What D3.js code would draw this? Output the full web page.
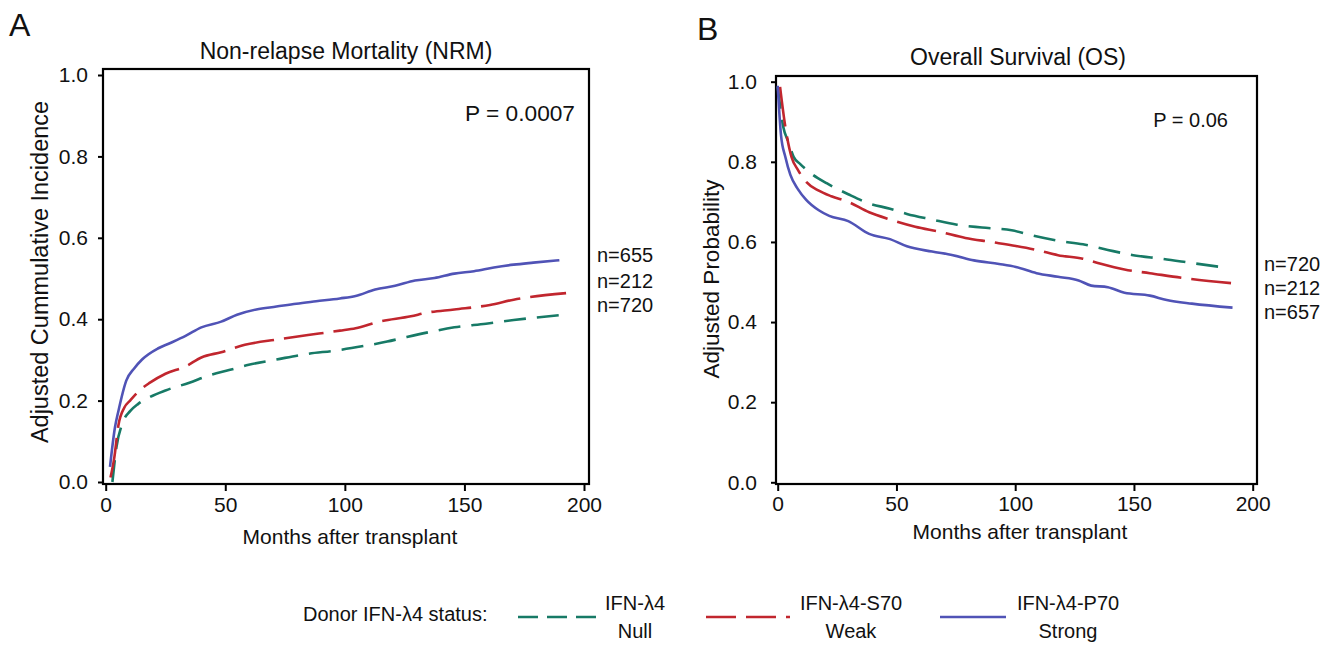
<!DOCTYPE html>
<html><head><meta charset="utf-8">
<script src="https://cdn.jsdelivr.net/npm/d3@7"></script>
<style>
body{margin:0;background:#fff;}
text{font-family:"Liberation Sans",Arial,sans-serif;fill:#111;}
</style></head>
<body><svg id="chart" width="1339" height="646"></svg>
<script>
// ---------- data ----------
const seriesNames = ["IFN-λ4 Null", "IFN-λ4-S70 Weak", "IFN-λ4-P70 Strong"];
const xTicks = [0, 50, 100, 150, 200];
const yTicks = [0, 0.2, 0.4, 0.6, 0.8, 1.0];

// Panel A: Non-relapse mortality, [months, adjusted cumulative incidence]
const nrmNull = [[2.8,0],[4.5,0.086],[6.9,0.143],[10.2,0.174],[13.6,0.192],[18.5,0.209],[25,0.225],[35,0.244],[43.3,0.262],[51.6,0.275],[59.8,0.288],[71.4,0.301],[84.6,0.315],[96.2,0.323],[107.8,0.334],[117.7,0.345],[124.3,0.354],[134.2,0.367],[145.8,0.38],[159,0.389],[170.6,0.398],[190,0.41]];
const nrmWeak = [[2,0.011],[3.6,0.06],[5.3,0.139],[7.8,0.183],[10.2,0.2],[13.6,0.222],[18.5,0.244],[25,0.266],[33.4,0.284],[40,0.306],[48.3,0.319],[58.2,0.337],[71.4,0.35],[84.6,0.361],[97.9,0.372],[104.5,0.378],[114.4,0.394],[127.6,0.407],[134.2,0.416],[145.8,0.424],[160.7,0.435],[170.6,0.448],[192.5,0.464]];
const nrmStrong = [[1.8,0.037],[3.9,0.135],[5.3,0.174],[8.6,0.249],[11.9,0.279],[15.2,0.301],[21.8,0.328],[26.8,0.341],[33.4,0.359],[40,0.38],[48.3,0.394],[54.9,0.411],[63,0.424],[71.4,0.431],[79.7,0.438],[88,0.444],[97.9,0.451],[104.5,0.457],[112.7,0.473],[121,0.482],[129.3,0.495],[137.5,0.501],[145.8,0.512],[154,0.518],[162.3,0.527],[170.6,0.534],[178.8,0.539],[189.7,0.545]];

// Panel B: Overall survival, [months, adjusted probability]
const osNull = [[0,0.987],[2.3,0.888],[4.6,0.848],[6.7,0.8125],[9.4,0.795],[13.8,0.772],[20.8,0.746],[29.7,0.719],[38.5,0.696],[47.3,0.683],[54.4,0.67],[65,0.656],[75.5,0.643],[86,0.636],[98.5,0.629],[107.3,0.616],[118,0.603],[128.5,0.594],[139,0.58],[149.7,0.567],[162,0.558],[176,0.546],[188.5,0.536]];
const osWeak = [[1,0.987],[3.2,0.888],[5.8,0.8125],[8.5,0.78],[12,0.75],[17.3,0.728],[22.6,0.714],[29.7,0.7],[38.5,0.674],[47.3,0.656],[57.9,0.638],[68.5,0.625],[79,0.61],[89.7,0.6],[100.3,0.59],[109,0.58],[118,0.567],[128.5,0.558],[135.6,0.546],[146,0.531],[156.7,0.522],[170.9,0.51],[193,0.496]];
const osStrong = [[0,0.99],[1.4,0.866],[3.2,0.8125],[5.3,0.768],[8.5,0.732],[12,0.705],[17.3,0.679],[21.7,0.665],[29.7,0.652],[38.5,0.62],[47.3,0.607],[54.4,0.589],[65,0.576],[73.8,0.567],[82.6,0.554],[93.2,0.545],[100.3,0.5375],[109,0.522],[118,0.513],[126.7,0.504],[132,0.491],[139,0.487],[146,0.473],[156.7,0.466],[163.8,0.455],[174.4,0.446],[191.5,0.436]];

const nrmLabels = ["n=655", "n=212", "n=720"];
const osLabels = ["n=720", "n=212", "n=657"];

// ---------- styles ----------
const colors = ["#177a66", "#c1262e", "#5053b6"];
const dashes = ["22,11", "40,10", null];
const legendDashes = ["20,9", "30,10", null];

const svg = d3.select("#chart");

function panel(cfg){
  const g = svg.append("g");
  const x = d3.scaleLinear().domain([0,200]).range(cfg.xr);
  const y = d3.scaleLinear().domain([0,1]).range(cfg.yr);

  // frame
  g.append("rect").attr("x", cfg.f.l).attr("y", cfg.f.t)
    .attr("width", cfg.f.r - cfg.f.l).attr("height", cfg.f.b - cfg.f.t)
    .attr("fill","none").attr("stroke","#000").attr("stroke-width",2.2);

  const xa = g.append("g").attr("transform", `translate(0,${cfg.f.b})`)
    .call(d3.axisBottom(x).tickValues(xTicks).tickSize(7).tickPadding(5).tickFormat(d3.format("d")));
  xa.select(".domain").remove();
  xa.selectAll("line").attr("stroke","#000").attr("stroke-width",2);
  xa.selectAll("text").attr("font-size", 21).attr("font-family",'"Liberation Sans",Arial,sans-serif').attr("fill","#111").attr("dy", cfg.xdy);

  const ya = g.append("g").attr("transform", `translate(${cfg.f.l},0)`)
    .call(d3.axisLeft(y).tickValues(yTicks).tickSize(5).tickPadding(cfg.ypad).tickFormat(d3.format(".1f")));
  ya.select(".domain").remove();
  ya.selectAll("line").attr("stroke","#000").attr("stroke-width",2);
  ya.selectAll("text").attr("font-size", 21).attr("font-family",'"Liberation Sans",Arial,sans-serif').attr("fill","#111");

  const line = d3.line().x(d=>x(d[0])).y(d=>y(d[1])).curve(d3.curveMonotoneX);
  cfg.series.forEach((s,i)=>{
    g.append("path").datum(s).attr("d", line).attr("fill","none")
      .attr("stroke", colors[i]).attr("stroke-width", 2.6)
      .attr("stroke-dasharray", dashes[i]);
  });

  g.append("text").attr("x", cfg.titleX).attr("y", cfg.titleY).attr("text-anchor","middle")
    .attr("font-size", 23).text(cfg.title);
  g.append("text").attr("x", cfg.xlabX).attr("y", cfg.xlabY).attr("text-anchor","middle")
    .attr("font-size", 21).text("Months after transplant");
  g.append("text").attr("transform", `translate(${cfg.ylabX},${cfg.ylabY}) rotate(-90)`)
    .attr("text-anchor","middle").attr("font-size", cfg.ylabSize).text(cfg.ylab);
  g.append("text").attr("x", cfg.pX).attr("y", cfg.pY).attr("text-anchor","end")
    .attr("font-size", cfg.pSize).text(cfg.p);
  g.append("text").attr("x", cfg.letterX).attr("y", cfg.letterY)
    .attr("font-size", 32).text(cfg.letter);
  cfg.nLabels.forEach((t,i)=>{
    g.append("text").attr("x", cfg.nX).attr("y", cfg.nY[i]).attr("font-size", 20).text(t);
  });
}

panel({
  xr:[105.7,584], yr:[482,75], f:{l:103,r:589,t:69,b:484}, xdy:"0.75em", ypad:10,
  series:[nrmNull,nrmWeak,nrmStrong],
  title:"Non-relapse Mortality (NRM)", titleX:346, titleY:59,
  xlabX:350, xlabY:544,
  ylab:"Adjusted Cummulative Incidence", ylabX:48, ylabY:272, ylabSize:23.5,
  p:"P = 0.0007", pX:575, pY:121, pSize:22.7,
  letter:"A", letterX:9, letterY:36,
  nLabels:nrmLabels, nX:597, nY:[262,288,312]
});

panel({
  xr:[777.7,1252.7], yr:[482.3,81.7], f:{l:776,r:1257,t:76,b:484}, xdy:"0.7em", ypad:14,
  series:[osNull,osWeak,osStrong],
  title:"Overall Survival (OS)", titleX:1018, titleY:65,
  xlabX:1020, xlabY:539,
  ylab:"Adjusted Probability", ylabX:719, ylabY:279, ylabSize:22.5,
  p:"P = 0.06", pX:1228, pY:127, pSize:20,
  letter:"B", letterX:697, letterY:40,
  nLabels:osLabels, nX:1264, nY:[271,295,319]
});

// ---------- legend ----------
const lg = svg.append("g");
lg.append("text").attr("x", 303).attr("y", 621).attr("font-size", 20).text("Donor IFN-λ4 status:");
const legendItems = [
  {x1:518, x2:596, top:"IFN-λ4", bottom:"Null", tx:635},
  {x1:706, x2:790, top:"IFN-λ4-S70", bottom:"Weak", tx:851},
  {x1:940, x2:1006, top:"IFN-λ4-P70", bottom:"Strong", tx:1068}
];
legendItems.forEach((d,i)=>{
  lg.append("line").attr("x1",d.x1).attr("x2",d.x2).attr("y1",617).attr("y2",617)
    .attr("stroke",colors[i]).attr("stroke-width",2.6).attr("stroke-dasharray",legendDashes[i]);
  lg.append("text").attr("x",d.tx).attr("y",610).attr("text-anchor","middle").attr("font-size",20).text(d.top);
  lg.append("text").attr("x",d.tx).attr("y",638).attr("text-anchor","middle").attr("font-size",20).text(d.bottom);
});
</script></body></html>
